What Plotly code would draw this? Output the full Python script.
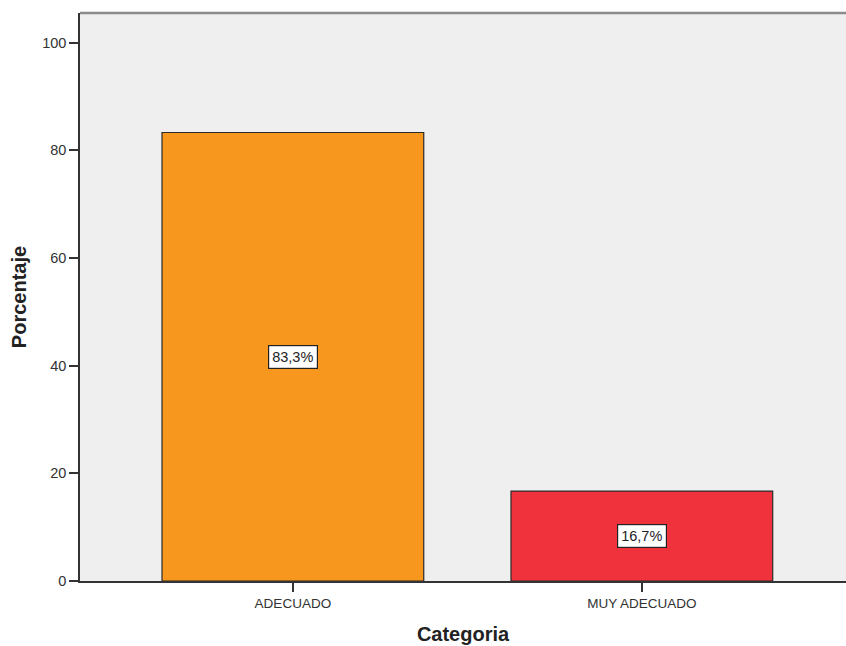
import plotly.graph_objects as go

categorias = ["ADECUADO", "MUY ADECUADO"]
porcentajes = [83.3, 16.7]
etiquetas = ["83,3%", "16,7%"]
colores = ["#F7971E", "#EF323B"]
ticks_y = [0, 20, 40, 60, 80, 100]

FUENTE = "Arial, Liberation Sans, sans-serif"

fig = go.Figure()
fig.add_trace(go.Bar(
    x=categorias,
    y=porcentajes,
    marker=dict(color=colores, line=dict(color="#2b2b2b", width=1.2)),
    width=0.75,
    hoverinfo="skip",
))

# Value boxes centred in each bar
for cat, val, txt in zip(categorias, porcentajes, etiquetas):
    fig.add_annotation(
        x=cat, y=val / 2, text=txt, showarrow=False,
        font=dict(family=FUENTE, size=14.5, color="#222"),
        bgcolor="white", bordercolor="#222", borderwidth=1.2, borderpad=3,
    )

# Top frame line
fig.add_shape(type="line", xref="paper", yref="paper", x0=0, x1=1, y0=1, y1=1,
              line=dict(color="#8a8a8a", width=2.5))

fig.update_layout(
    width=846, height=646,
    margin=dict(l=80, r=0, t=13, b=65),
    paper_bgcolor="white",
    plot_bgcolor="#EFEFEF",
    showlegend=False,
    font=dict(family=FUENTE, size=14, color="#333"),
    xaxis=dict(
        range=[-0.61, 1.585],
        showline=True, linecolor="#333", linewidth=1.5,
        ticks="outside", ticklen=9, tickcolor="#333", tickwidth=1.5,
        tickfont=dict(size=13.5),
        showgrid=False, zeroline=False,
        title=dict(text="<b>Categoria</b>", font=dict(size=20, color="#222"), standoff=17),
    ),
    yaxis=dict(
        range=[0, 105.5],
        tickvals=ticks_y,
        showline=True, linecolor="#333", linewidth=1.5,
        ticks="outside", ticklen=9, tickcolor="#333", tickwidth=1.5,
        tickfont=dict(size=14.5),
        showgrid=False, zeroline=False,
        title=dict(text="<b>Porcentaje</b>", font=dict(size=20, color="#222"), standoff=10),
    ),
)

fig.write_html("out.html")
